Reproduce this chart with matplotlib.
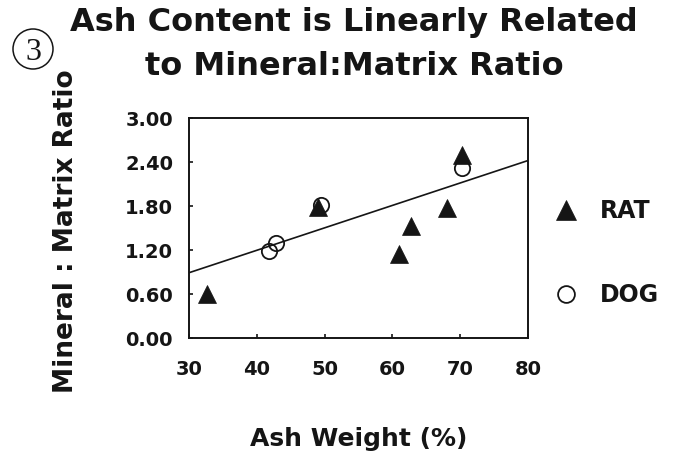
import matplotlib
matplotlib.use("Agg")
import matplotlib.pyplot as plt
from matplotlib.patches import Circle
from matplotlib.font_manager import FontProperties

# Ash weight (%) and mineral:matrix ratio per species
rat_ash = [32.6, 49.0, 60.9, 62.7, 68.0, 70.2]
rat_ratio = [0.60, 1.79, 1.15, 1.53, 1.77, 2.49]
dog_ash = [41.8, 42.8, 49.5, 70.2]
dog_ratio = [1.18, 1.29, 1.81, 2.32]

# Linear fit through both species
fit_ash = [30, 80]
fit_ratio = [0.89, 2.42]

x_ticks = [30, 40, 50, 60, 70, 80]
y_ticks = [0.00, 0.60, 1.20, 1.80, 2.40, 3.00]

title_lines = ["Ash Content is Linearly Related", "to Mineral:Matrix Ratio"]
x_label = "Ash Weight (%)"
y_label = "Mineral : Matrix Ratio"
series_labels = ["RAT", "DOG"]
panel_number = "3"

INK = "#151515"
W, H = 680, 454

fig = plt.figure(figsize=(W / 100, H / 100), dpi=100)
fig.patch.set_facecolor("white")

def fx(px):
    return px / W

def fy(py):
    return 1 - py / H

ax = fig.add_axes([fx(189), fy(338), (528 - 189) / W, (338 - 118) / H])

bold = dict(family="DejaVu Sans", weight="bold", color=INK)

ax.plot(fit_ash, fit_ratio, color=INK, lw=1.2, zorder=2)
ax.plot(dog_ash, dog_ratio, linestyle="none", marker="o", ms=11,
        mfc="none", mec=INK, mew=1.3, zorder=3, label=series_labels[1])
ax.plot(rat_ash, rat_ratio, linestyle="none", marker="^", ms=12.5,
        mfc=INK, mec=INK, mew=0.5, zorder=4, label=series_labels[0])

ax.set_xlim(30, 80)
ax.set_ylim(0, 3.0)
ax.set_xticks(x_ticks)
ax.set_yticks(y_ticks)
ax.set_xticklabels([str(v) for v in x_ticks])
ax.set_yticklabels([f"{v:.2f}" for v in y_ticks])

for spine in ax.spines.values():
    spine.set_linewidth(1.4)
    spine.set_color(INK)

ax.tick_params(axis="both", direction="in", length=3, width=1.2, color=INK,
               labelsize=14, labelcolor=INK)
ax.tick_params(axis="x", pad=16)
ax.tick_params(axis="y", pad=11.5)
for lab in ax.get_xticklabels() + ax.get_yticklabels():
    lab.set_fontfamily("DejaVu Sans")
    lab.set_fontweight("bold")

# Legend to the right of the plot
handles, labels = ax.get_legend_handles_labels()
order = [labels.index(s) for s in series_labels]
leg = ax.legend([handles[i] for i in order], [labels[i] for i in order],
                loc="upper left", bbox_to_anchor=(fx(554), fy(199)),
                bbox_transform=fig.transFigure, frameon=False, borderpad=0,
                borderaxespad=0, handlelength=1.0, handletextpad=0.95,
                labelspacing=2.55, markerscale=1.1,
                prop=FontProperties(family="DejaVu Sans", weight="bold", size=17))
for t in leg.get_texts():
    t.set_color(INK)

# Title lines
fig.text(fx(354), fy(31), title_lines[0], ha="center", va="baseline",
         fontsize=23, **bold)
fig.text(fx(354), fy(75), title_lines[1], ha="center", va="baseline",
         fontsize=23, **bold)

# Axis labels
fig.text(fx(359), fy(446), x_label, ha="center", va="baseline",
         fontsize=18, **bold)
fig.text(fx(73), fy(231), y_label, ha="center", va="baseline",
         rotation=90, rotation_mode="anchor", fontsize=19, **bold)

# Circled panel number
fig.patches.append(Circle((0.33, (H - 49) / 100), 0.20, transform=fig.dpi_scale_trans,
                          fill=False, lw=1.1, ec=INK))
fig.text(fx(33), fy(60), panel_number, ha="center", va="baseline",
         family="Liberation Serif", fontsize=23, color=INK)

fig.savefig("out.png", dpi=100, facecolor="white")
